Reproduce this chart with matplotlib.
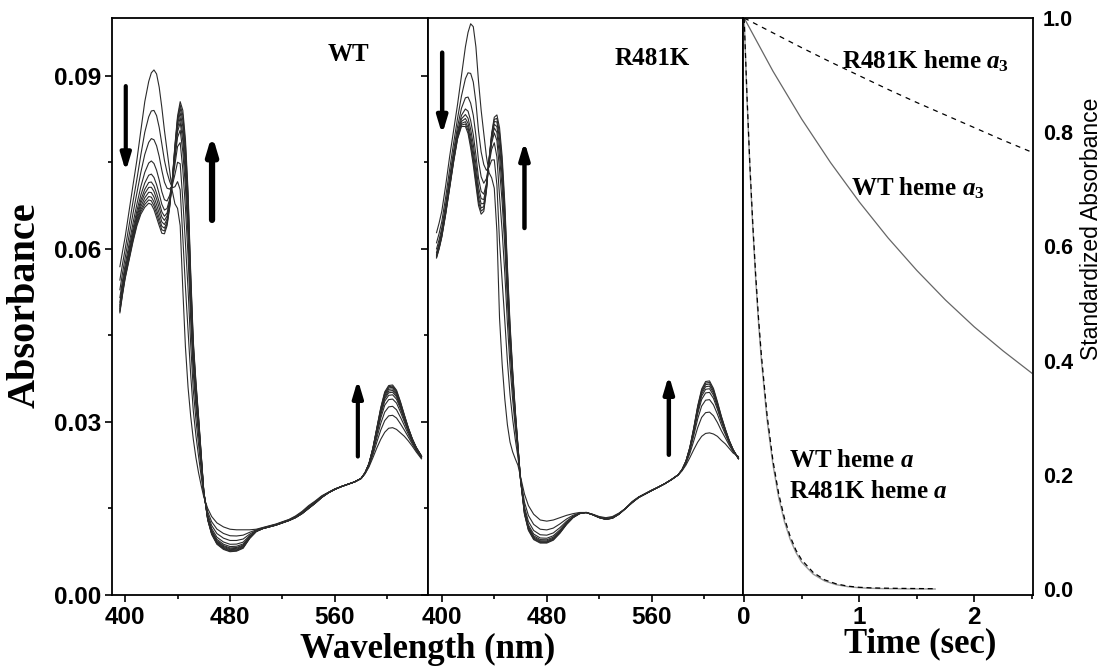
import numpy as np
import matplotlib
matplotlib.use('Agg')
import matplotlib.pyplot as plt
from matplotlib.ticker import MultipleLocator, FormatStrFormatter

plt.rcParams['font.family'] = 'Liberation Sans'
plt.rcParams['font.weight'] = 'bold'
plt.rcParams['mathtext.fontset'] = 'custom'
plt.rcParams['mathtext.rm'] = 'Liberation Serif:bold'
plt.rcParams['mathtext.it'] = 'Liberation Serif:italic:bold'

# wavelength grid (nm) used for both spectra panels
wl = [396, 398, 400, 403, 406, 409, 412, 415, 418, 420, 422, 424, 426, 428, 430,
      432, 434, 436, 438, 440, 442, 444, 446, 448, 450, 452, 454, 456, 458, 460,
      463, 466, 470, 475, 480, 485, 490, 495, 500, 505, 510, 515, 520, 525, 530,
      535, 540, 545, 550, 555, 560, 565, 570, 575, 580, 583, 586, 589, 592, 595,
      598, 601, 604, 607, 610, 613, 616, 619, 622, 626]

# WT: first and last spectrum of the series
wt_first = [0.0569, 0.0595, 0.0620, 0.0665, 0.0710, 0.0754, 0.0805, 0.0855, 0.0890, 0.0905,
            0.0910, 0.0903, 0.0880, 0.0845, 0.0805, 0.0770, 0.0735, 0.0700, 0.0678, 0.0670,
            0.0640, 0.0530, 0.0430, 0.0360, 0.0310, 0.0270, 0.0238, 0.0212, 0.0190, 0.0170,
            0.0150, 0.0136, 0.0125, 0.0118, 0.0114, 0.0113, 0.0113, 0.0113, 0.0114, 0.0117,
            0.0120, 0.0123, 0.0127, 0.0131, 0.0137, 0.0145, 0.0155, 0.0163, 0.0172, 0.0178,
            0.0184, 0.0188, 0.0192, 0.0196, 0.0202, 0.0210, 0.0222, 0.0238, 0.0255, 0.0270,
            0.0282, 0.0289, 0.0290, 0.0287, 0.0281, 0.0275, 0.0267, 0.0258, 0.0248, 0.0236]
wt_last = [0.0489, 0.0520, 0.0548, 0.0580, 0.0612, 0.0640, 0.0660, 0.0672, 0.0679, 0.0677,
           0.0668, 0.0654, 0.0640, 0.0627, 0.0626, 0.0640, 0.0672, 0.0720, 0.0780, 0.0830,
           0.0855, 0.0840, 0.0790, 0.0700, 0.0560, 0.0440, 0.0370, 0.0310, 0.0245, 0.0180,
           0.0130, 0.0105, 0.0088, 0.0079, 0.0075, 0.0076, 0.0081, 0.0098, 0.0110, 0.0115,
           0.0118, 0.0121, 0.0125, 0.0129, 0.0134, 0.0141, 0.0150, 0.0159, 0.0169, 0.0177,
           0.0183, 0.0188, 0.0192, 0.0196, 0.0202, 0.0212, 0.0228, 0.0255, 0.0290, 0.0325,
           0.0352, 0.0363, 0.0364, 0.0355, 0.0335, 0.0312, 0.0290, 0.0271, 0.0256, 0.0241]
# how far each recorded WT spectrum has moved from first to last
wt_progress = [0, 0.29, 0.50, 0.67, 0.77, 0.83, 0.87, 0.91, 0.945, 0.973, 1.0]

# R481K: first and last spectrum of the series
mut_first = [0.0628, 0.0645, 0.0665, 0.0710, 0.0760, 0.0805, 0.0850, 0.0900, 0.0950, 0.0975,
             0.0990, 0.0985, 0.0950, 0.0890, 0.0840, 0.0800, 0.0760, 0.0732, 0.0723, 0.0705,
             0.0630, 0.0480, 0.0400, 0.0340, 0.0295, 0.0265, 0.0248, 0.0236, 0.0225, 0.0205,
             0.0175, 0.0155, 0.0140, 0.0130, 0.0128, 0.0130, 0.0134, 0.0138, 0.0141, 0.0143,
             0.0143, 0.0140, 0.0136, 0.0134, 0.0136, 0.0142, 0.0150, 0.0162, 0.0170, 0.0176,
             0.0182, 0.0187, 0.0193, 0.0200, 0.0208, 0.0215, 0.0225, 0.0238, 0.0252, 0.0265,
             0.0275, 0.0280, 0.0281, 0.0279, 0.0275, 0.0268, 0.0262, 0.0254, 0.0246, 0.0240]
mut_last = [0.0584, 0.0600, 0.0620, 0.0660, 0.0705, 0.0750, 0.0790, 0.0812, 0.0812, 0.0800,
            0.0775, 0.0745, 0.0710, 0.0675, 0.0660, 0.0665, 0.0700, 0.0755, 0.0800, 0.0828,
            0.0832, 0.0810, 0.0760, 0.0680, 0.0570, 0.0470, 0.0390, 0.0320, 0.0260, 0.0200,
            0.0140, 0.0112, 0.0096, 0.0090, 0.0090, 0.0095, 0.0107, 0.0122, 0.0134, 0.0141,
            0.0143, 0.0139, 0.0134, 0.0131, 0.0133, 0.0140, 0.0150, 0.0160, 0.0169, 0.0175,
            0.0181, 0.0187, 0.0193, 0.0200, 0.0208, 0.0217, 0.0232, 0.0256, 0.0290, 0.0328,
            0.0357, 0.0370, 0.0371, 0.0358, 0.0335, 0.0310, 0.0288, 0.0268, 0.0252, 0.0236]
mut_progress = [0, 0.40, 0.64, 0.78, 0.85, 0.90, 0.94, 0.97, 1.0]

# kinetics (standardized absorbance vs time)
t_slow = [0, 0.25, 0.5, 0.75, 1.0, 1.25, 1.5, 1.75, 2.0, 2.25, 2.5]
wt_a3 = [1.0, 0.907, 0.823, 0.747, 0.678, 0.615, 0.558, 0.506, 0.459, 0.417, 0.378]
mut_a3 = [1.0, 0.974, 0.948, 0.923, 0.899, 0.875, 0.852, 0.830, 0.808, 0.786, 0.765]

t_fast = [0, 0.025, 0.05, 0.075, 0.1, 0.125, 0.15, 0.2, 0.25, 0.3, 0.35, 0.4,
          0.45, 0.5, 0.6, 0.7, 0.8, 0.9, 1.0, 1.1, 1.2, 1.4, 1.66]
wt_a = [1.0, 0.858, 0.737, 0.633, 0.543, 0.466, 0.400, 0.295, 0.218, 0.160, 0.118, 0.087,
        0.064, 0.047, 0.026, 0.014, 0.0076, 0.0041, 0.0022, 0.0012, 0.0007, 0.0002, 0.0]
mut_a = [1.0, 0.862, 0.742, 0.640, 0.551, 0.474, 0.409, 0.303, 0.225, 0.167, 0.124, 0.092,
         0.068, 0.051, 0.029, 0.016, 0.009, 0.005, 0.003, 0.002, 0.0015, 0.001, 0.0005]

serif = 'Liberation Serif'
W, H = 1106, 668
fig = plt.figure(figsize=(W / 100, H / 100), dpi=100)
bot = 73 / H
hgt = 577 / H
ax1 = fig.add_axes([112 / W, bot, 316 / W, hgt])
ax2 = fig.add_axes([428 / W, bot, 315 / W, hgt])
ax3 = fig.add_axes([743 / W, bot, 290 / W, hgt])

for ax in (ax1, ax2, ax3):
    for s in ax.spines.values():
        s.set_linewidth(1.3)

wl_arr = np.array(wl)
for ax, first, last, prog in ((ax1, wt_first, wt_last, wt_progress),
                              (ax2, mut_first, mut_last, mut_progress)):
    a0 = np.array(first)
    a1 = np.array(last)
    for f in prog:
        ax.plot(wl_arr, a0 + f * (a1 - a0), color='#2b2b2b', lw=0.8)
    ax.set_ylim(0, 0.1)
    ax.xaxis.set_major_locator(MultipleLocator(80))
    ax.xaxis.set_minor_locator(MultipleLocator(40))
    ax.yaxis.set_major_locator(MultipleLocator(0.03))
    ax.yaxis.set_minor_locator(MultipleLocator(0.015))
    ax.yaxis.set_major_formatter(FormatStrFormatter('%.2f'))
    ax.tick_params(which='major', direction='out', length=5, width=1.2, labelsize=17.5, pad=3)
    ax.tick_params(which='minor', direction='out', length=3, width=1.2)

ax1.set_xlim(390, 631)
ax2.set_xlim(389.5, 629.5)
ax2.tick_params(axis='y', labelleft=False)


def arrow(ax, x, y0, y1, lw):
    ax.annotate('', xy=(x, y1), xytext=(x, y0),
                arrowprops=dict(arrowstyle='-|>,head_width=0.3,head_length=1.0',
                                lw=lw, color='black', shrinkA=0, shrinkB=0))


arrow(ax1, 400.5, 0.0882, 0.0734, 3.0)
arrow(ax1, 466.3, 0.0650, 0.0798, 4.5)
arrow(ax1, 577.5, 0.0240, 0.0373, 3.0)
arrow(ax2, 400.3, 0.0940, 0.0798, 3.2)
arrow(ax2, 463.0, 0.0636, 0.0786, 3.2)
arrow(ax2, 573.0, 0.0243, 0.0381, 3.2)

ax1.text(570, 0.0925, 'WT', family=serif, weight='bold', size=18, ha='center', va='baseline')
ax2.text(560, 0.0919, 'R481K', family=serif, weight='bold', size=18, ha='center', va='baseline')

# kinetics panel
ax3.plot(t_slow, wt_a3, color='#666666', lw=0.9)
ax3.plot(t_slow, mut_a3, color='black', lw=0.9, dashes=(4, 4))
ax3.plot(t_fast, wt_a, color='#999999', lw=1.0)
ax3.plot(t_fast, mut_a, color='black', lw=0.9, dashes=(4, 3))
ax3.set_xlim(-0.01, 2.51)
ax3.set_ylim(-0.0105, 1.0)
ax3.xaxis.set_major_locator(MultipleLocator(1))
ax3.xaxis.set_minor_locator(MultipleLocator(0.5))
ax3.yaxis.set_major_locator(MultipleLocator(0.2))
ax3.yaxis.set_major_formatter(FormatStrFormatter('%.1f'))
ax3.tick_params(axis='x', which='major', direction='out', length=5, width=1.2, labelsize=17.5, pad=3)
ax3.tick_params(axis='x', which='minor', direction='out', length=3, width=1.2)
ax3.tick_params(axis='y', left=False, labelleft=False, right=True, labelright=True,
                length=0, labelsize=15.5, pad=7)

ann = dict(size=18, va='baseline', ha='left', family=serif, weight='bold')
ax3.text(0.85, 0.912, r'R481K heme $\mathit{a}_{3}$', **ann)
ax3.text(0.93, 0.690, r'WT heme $\mathit{a}_{3}$', **ann)
ax3.text(0.39, 0.214, r'WT heme $\mathit{a}$', **ann)
ax3.text(0.39, 0.159, r'R481K heme $\mathit{a}$', **ann)

# axis titles
fig.text(25 / W, 1 - 305 / H, 'Absorbance', family=serif, weight='bold', size=29,
         rotation=90, ha='center', va='center')
fig.text(428 / W, 1 - 649 / H, 'Wavelength (nm)', family=serif, weight='bold', size=25,
         ha='center', va='center')
fig.text(920 / W, 1 - 644 / H, 'Time (sec)', family=serif, weight='bold', size=25,
         ha='center', va='center')
fig.text(1091 / W, 1 - 229 / H, 'Standardized Absorbance', family='Liberation Sans',
         weight='normal', size=16.5, rotation=90, ha='center', va='center')

fig.savefig('out.png', dpi=100)
